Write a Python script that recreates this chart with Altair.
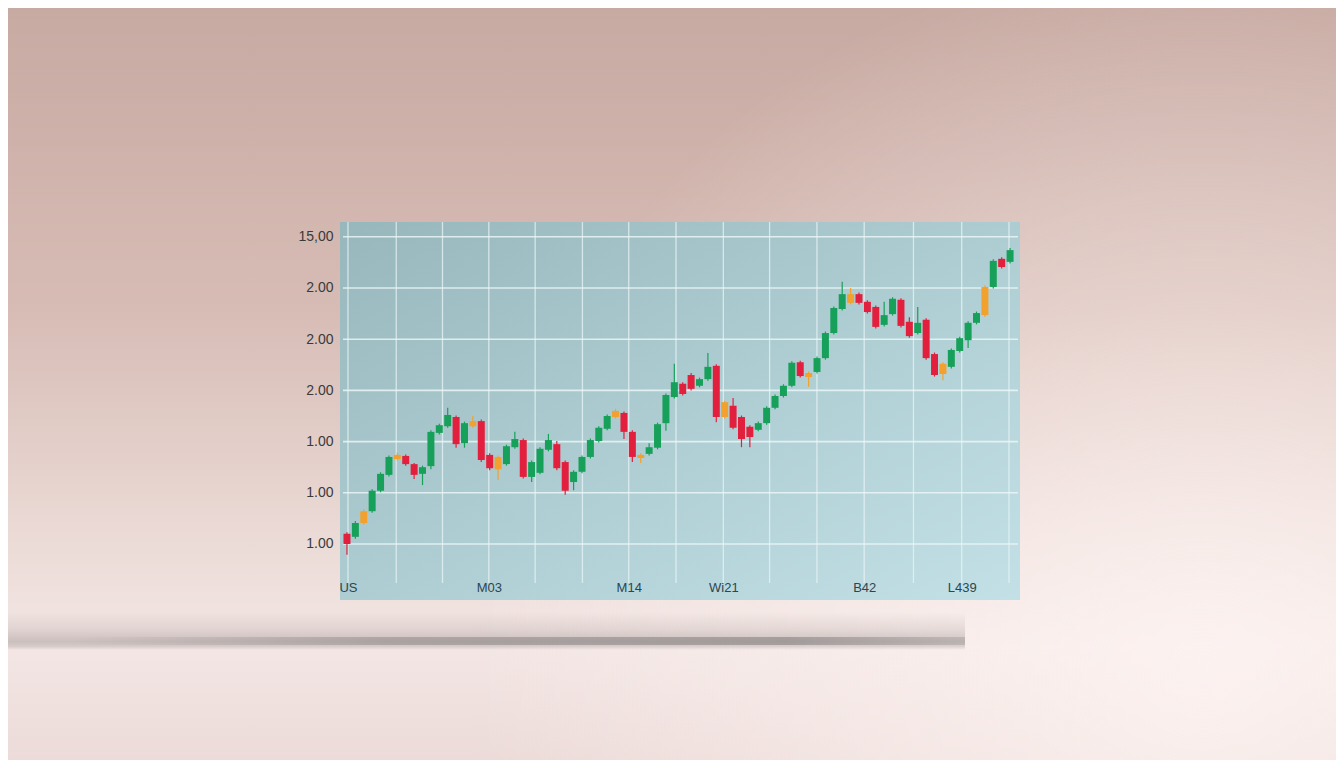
import altair as alt
import pandas as pd

# ---- candle data ----
OPEN = [102.0, 101.4, 104.1, 106.4, 110.4, 113.5, 116.6, 117.2, 115.6, 113.7,
        115.2, 121.7, 123.0, 124.8, 119.7, 123.0, 124.0, 117.4, 114.6, 115.6,
        118.9, 120.3, 113.1, 113.9, 118.4, 119.5, 116.0, 112.1, 114.1, 117.0,
        120.1, 122.5, 124.8, 125.6, 121.9, 117.4, 117.6, 118.8, 123.6, 128.7,
        131.3, 133.0, 130.9, 132.2, 134.8, 124.8, 127.0, 124.8, 122.9, 122.3,
        123.6, 126.6, 128.9, 130.9, 135.5, 132.6, 133.6, 136.3, 141.2, 145.9,
        147.1, 148.8, 147.3, 146.3, 142.8, 144.9, 147.7, 143.4, 141.2, 143.8,
        137.1, 133.2, 134.6, 137.7, 139.8, 143.2, 144.7, 150.2, 155.7, 155.1]
CLOSE = [100.0, 104.1, 106.4, 110.4, 113.7, 117.0, 117.4, 115.6, 113.5, 115.0,
         121.9, 123.2, 125.2, 119.5, 123.6, 124.0, 116.4, 114.8, 117.0, 119.1,
         120.5, 113.1, 116.0, 118.6, 120.3, 114.8, 110.4, 114.1, 117.0, 120.3,
         122.7, 125.0, 126.0, 121.9, 117.0, 116.8, 118.9, 123.4, 129.1, 131.6,
         129.3, 130.3, 132.2, 134.6, 124.8, 127.7, 122.7, 120.5, 120.9, 123.6,
         126.6, 128.9, 130.9, 135.4, 132.8, 133.4, 136.3, 141.2, 146.1, 148.8,
         148.8, 147.1, 145.3, 142.4, 144.7, 147.9, 142.6, 140.6, 143.2, 136.3,
         133.0, 135.2, 137.9, 140.2, 143.2, 145.1, 150.2, 155.3, 154.1, 157.4]
HIGH = [102.3, 104.5, 106.8, 110.7, 114.0, 117.3, 117.8, 117.5, 115.8, 115.3,
        122.2, 123.5, 126.6, 125.1, 123.9, 125.0, 124.3, 117.7, 117.3, 119.4,
        121.9, 120.6, 116.3, 118.9, 121.5, 120.1, 116.3, 114.4, 117.3, 120.6,
        123.0, 125.3, 126.4, 125.9, 122.2, 117.7, 119.7, 123.7, 129.4, 135.2,
        131.6, 133.4, 132.5, 137.3, 135.1, 128.0, 128.5, 125.1, 123.2, 123.9,
        126.9, 129.2, 131.2, 135.7, 135.8, 133.7, 136.6, 141.5, 146.4, 151.2,
        150.0, 149.1, 147.6, 146.6, 147.3, 148.2, 148.0, 144.3, 146.3, 144.1,
        137.4, 135.5, 138.2, 140.5, 143.5, 145.4, 150.5, 155.6, 156.0, 157.8]
LOW = [97.9, 101.0, 103.8, 106.1, 110.1, 113.2, 116.3, 115.3, 112.7, 111.5,
       114.6, 121.4, 122.7, 118.8, 118.8, 122.7, 116.0, 114.4, 112.5, 115.3,
       118.6, 112.8, 112.1, 113.6, 118.1, 114.4, 109.6, 110.5, 113.8, 116.7,
       119.8, 122.2, 124.5, 120.5, 116.0, 115.8, 117.3, 118.5, 122.1, 128.4,
       129.0, 130.0, 130.6, 131.9, 123.8, 124.5, 122.4, 118.9, 118.9, 122.0,
       123.3, 126.3, 128.6, 130.6, 132.5, 130.7, 133.3, 136.0, 140.9, 145.6,
       146.8, 146.8, 145.0, 142.1, 142.5, 144.6, 142.3, 140.3, 140.9, 136.0,
       132.7, 132.0, 134.3, 137.4, 138.3, 142.9, 144.4, 149.9, 153.8, 154.8]
KIND = ["down", "up", "flat", "up", "up", "up", "flat", "down", "down", "up",
        "up", "up", "up", "down", "up", "flat", "down", "down", "flat", "up",
        "up", "down", "up", "up", "up", "down", "down", "up", "up", "up",
        "up", "up", "flat", "down", "down", "flat", "up", "up", "up", "up",
        "down", "down", "up", "up", "down", "flat", "down", "down", "down", "up",
        "up", "up", "up", "up", "down", "flat", "up", "up", "up", "up",
        "flat", "down", "down", "down", "up", "up", "down", "down", "up", "down",
        "down", "flat", "up", "up", "up", "up", "flat", "up", "down", "up"]

# ---- axes ----
Y_TICKS = [100, 110, 120, 130, 140, 150, 160]
Y_LABELS = ["1.00", "1.00", "1.00", "2.00", "2.00", "2.00", "15,00"]
X_GRID = [0.12, 5.87, 11.38, 16.90, 22.42, 28.05, 33.57, 39.20, 44.84,
          50.35, 55.99, 61.62, 67.49, 73.24, 78.87]
X_LABELS = ["US", "", "", "M03", "", "", "M14", "", "Wi21", "", "", "B42",
            "", "L439", ""]

W, H = 680, 361
PAD = {"left": 332, "top": 214, "right": 316, "bottom": 177}

GREEN, RED, ORANGE = "#17a05a", "#e2203e", "#f2a12e"
FONT = "Liberation Sans"

df = pd.DataFrame({"t": list(range(len(OPEN))), "open": OPEN, "close": CLOSE,
                   "high": HIGH, "low": LOW, "kind": KIND})
one = pd.DataFrame({"a": [0]})


def ternary(values, labels):
    expr = "''"
    for v, l in reversed(list(zip(values, labels))):
        expr = f"(datum.value == {v} ? '{l}' : {expr})"
    return expr


xscale = alt.Scale(domain=[-0.235, 79.587], nice=False, zero=False)
yscale = alt.Scale(domain=[92.38, 162.89], nice=False, zero=False)
cscale = alt.Scale(domain=["up", "down", "flat"], range=[GREEN, RED, ORANGE])

X_AXIS = alt.Axis(values=X_GRID, labelExpr=ternary(X_GRID, X_LABELS), title=None,
                  grid=False, ticks=False, domain=False,
                  labelFont=FONT, labelFontSize=13, labelColor="#2c4650",
                  labelBaseline="middle", labelPadding=4,
                  labelFlush=5, labelOverlap=False, zindex=1)
Y_AXIS = alt.Axis(values=Y_TICKS, labelExpr=ternary(Y_TICKS, Y_LABELS), title=None,
                  grid=False, ticks=False, domain=False,
                  labelFont=FONT, labelFontSize=14, labelColor="#3a3a3a",
                  labelPadding=7, labelOverlap=False, zindex=1)

FULL = dict(x=alt.value(-PAD["left"]), x2=alt.value(W + PAD["right"]),
            y=alt.value(-PAD["top"]), y2=alt.value(H + PAD["bottom"]))

# ---- decorations ----
bg = alt.Chart(one).mark_rect(
    color=alt.LinearGradient(
        gradient="linear", x1=0, y1=0, x2=0, y2=1,
        stops=[alt.GradientStop(color="#c7aaa2", offset=0),
               alt.GradientStop(color="#d7bcb5", offset=0.4),
               alt.GradientStop(color="#ecdcd8", offset=0.72),
               alt.GradientStop(color="#f3e6e4", offset=0.85),
               alt.GradientStop(color="#ecdbd8", offset=1)])
).encode(**FULL)

glow = alt.Chart(one).mark_rect(
    color=alt.RadialGradient(
        gradient="radial", x1=0.9, y1=0.72, r1=0, x2=0.9, y2=0.72, r2=0.55,
        stops=[alt.GradientStop(color="rgba(255,246,244,0.75)", offset=0),
               alt.GradientStop(color="rgba(255,246,244,0)", offset=1)])
).encode(**FULL)

shadow_soft = alt.Chart(one).mark_rect(
    color=alt.LinearGradient(
        gradient="linear", x1=0, y1=0, x2=0, y2=1,
        stops=[alt.GradientStop(color="rgba(120,106,104,0)", offset=0),
               alt.GradientStop(color="rgba(120,106,104,0.14)", offset=0.45),
               alt.GradientStop(color="rgba(110,104,104,0.3)", offset=0.78),
               alt.GradientStop(color="rgba(110,104,104,0.22)", offset=0.9),
               alt.GradientStop(color="rgba(120,108,108,0)", offset=1)])
).encode(x=alt.value(-PAD["left"]), x2=alt.value(625),
         y=alt.value(390), y2=alt.value(428))

shadow_core = alt.Chart(one).mark_rect(
    color=alt.LinearGradient(
        gradient="linear", x1=0, y1=0, x2=1, y2=0,
        stops=[alt.GradientStop(color="rgba(100,98,98,0)", offset=0),
               alt.GradientStop(color="rgba(100,98,98,0.32)", offset=0.35),
               alt.GradientStop(color="rgba(100,98,98,0.42)", offset=0.8),
               alt.GradientStop(color="rgba(100,98,98,0.2)", offset=1)])
).encode(x=alt.value(-268), x2=alt.value(625),
         y=alt.value(415), y2=alt.value(423))

panel = alt.Chart(one).mark_rect(
    color=alt.LinearGradient(
        gradient="linear", x1=0, y1=0, x2=1, y2=1,
        stops=[alt.GradientStop(color="#98b7bc", offset=0),
               alt.GradientStop(color="#b0cfd4", offset=0.55),
               alt.GradientStop(color="#c2e0e6", offset=1)])
).encode(x=alt.value(0), x2=alt.value(W), y=alt.value(0), y2=alt.value(378))

vgrid = alt.Chart(pd.DataFrame({"g": X_GRID})).mark_rule(
    color="#e8f4f6", strokeWidth=1.3, opacity=0.75
).encode(x=alt.X("g:Q", scale=xscale, axis=X_AXIS),
         y=alt.value(0), y2=alt.value(H))

hgrid = alt.Chart(pd.DataFrame({"v": Y_TICKS})).mark_rule(
    color="#eef7f8", strokeWidth=1.6, opacity=0.8
).encode(y=alt.Y("v:Q", scale=yscale, axis=Y_AXIS),
         x=alt.value(3), x2=alt.value(W - 2))

# ---- candles ----
base = alt.Chart(df)
wick = base.mark_rule(strokeWidth=1.2).encode(
    x=alt.X("t:Q", scale=xscale, axis=X_AXIS),
    y=alt.Y("low:Q", scale=yscale, axis=Y_AXIS),
    y2="high:Q",
    color=alt.Color("kind:N", scale=cscale, legend=None))
body = base.mark_bar(size=7).encode(
    x=alt.X("t:Q", scale=xscale, axis=X_AXIS),
    y=alt.Y("open:Q", scale=yscale, axis=Y_AXIS),
    y2="close:Q",
    color=alt.Color("kind:N", scale=cscale, legend=None))

chart = alt.layer(bg, glow, shadow_soft, shadow_core, panel, vgrid, hgrid,
                  wick, body).properties(
    width=W, height=H, padding=PAD,
    autosize=alt.AutoSizeParams(type="none"),
).configure(background="#e2cbc5").configure_view(stroke=None)

chart.save("out.html", embed_options={"renderer": "svg", "actions": False})
